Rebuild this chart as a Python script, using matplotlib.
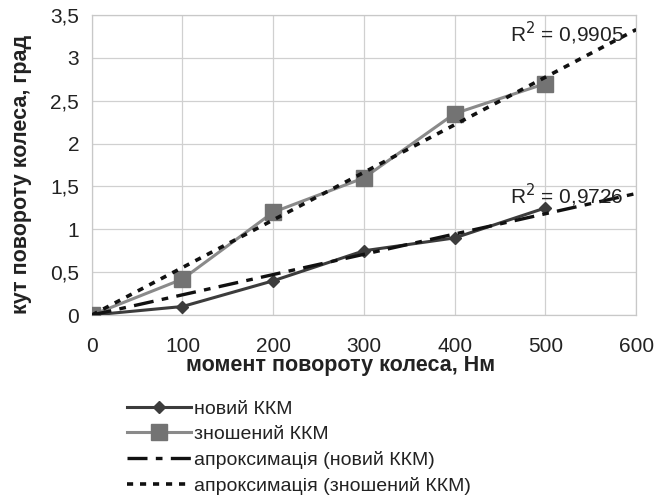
import numpy as np
import matplotlib
matplotlib.use('Agg')
import matplotlib.pyplot as plt
import matplotlib.ticker as tkr

plt.rcParams['font.family'] = ['Liberation Sans', 'DejaVu Sans']

# moment (Nm) vs wheel angle (deg)
moment = [0, 100, 200, 300, 400, 500]
new_kkm = [0, 0.1, 0.4, 0.75, 0.9, 1.25]
worn_kkm = [0, 0.42, 1.2, 1.6, 2.35, 2.7]
r2_new = '0,9726'
r2_worn = '0,9905'

labels = ['новий ККМ', 'зношений ККМ',
          'апроксимація (новий ККМ)', 'апроксимація (зношений ККМ)']


def slope_origin(x, y):
    # linear trend through zero, like the Excel trendline
    x = np.asarray(x, float)
    y = np.asarray(y, float)
    return (x * y).sum() / (x * x).sum()


fig = plt.figure(figsize=(6.6, 4.97), dpi=100)
ax = fig.add_axes([0.139, 0.366, 0.825, 0.604])

xt = np.array([0, 600])
k_new = slope_origin(moment, new_kkm)
k_worn = slope_origin(moment, worn_kkm)

l1, = ax.plot(moment, new_kkm, color='#3c3c3c', lw=2.2, marker='D',
              ms=6, zorder=3)
l2, = ax.plot(moment, worn_kkm, color='#8a8a8a', lw=2.2, marker='s',
              ms=12, mfc='#737373', mec='#737373', zorder=3)
l3, = ax.plot(xt, k_new * xt, color='#111111', lw=2.4,
              dashes=(6, 2.5, 2, 2.5), zorder=4)
l4, = ax.plot(xt, k_worn * xt, color='#111111', lw=2.6,
              dashes=(1.7, 1.9), zorder=4)

ax.text(586, 3.29, 'R$^2$ = ' + r2_worn, ha='right', va='center',
        fontsize=15, color='#222222', zorder=5)
ax.text(586, 1.40, 'R$^2$ = ' + r2_new, ha='right', va='center',
        fontsize=15, color='#222222', zorder=5)

ax.set_xlim(0, 600)
ax.set_ylim(0, 3.5)
ax.set_xticks(range(0, 601, 100))
ax.set_yticks(np.arange(0, 3.51, 0.5))
ax.yaxis.set_major_formatter(tkr.FuncFormatter(
    lambda v, p: format(v, 'g').replace('.', ',')))
ax.tick_params(length=0, labelsize=15, colors='#222222')
ax.tick_params(axis='x', pad=16)
ax.tick_params(axis='y', pad=9)
ax.grid(True, color='#d0d0d0', lw=0.9)
ax.set_axisbelow(True)
for s in ax.spines.values():
    s.set_color('#c8c8c8')
    s.set_linewidth(0.9)

fig.text(341 / 660, 1 - 366 / 497, 'момент повороту колеса, Нм',
         fontsize=15.5, fontweight='bold', color='#222222',
         ha='center', va='center')
fig.text(22 / 660, 1 - 174 / 497, 'кут повороту колеса, град',
         fontsize=15.5, fontweight='bold', color='#222222',
         ha='center', va='center', rotation=90)

fig.legend([l1, l2, l3, l4], labels, loc='upper left',
           bbox_to_anchor=(127 / 660, 1 - 400 / 497), frameon=False,
           fontsize=14, handlelength=3.3, handletextpad=0.15,
           labelspacing=0.4, borderaxespad=0, borderpad=0,
           labelcolor='#222222')

fig.savefig('out.png', dpi=100)
